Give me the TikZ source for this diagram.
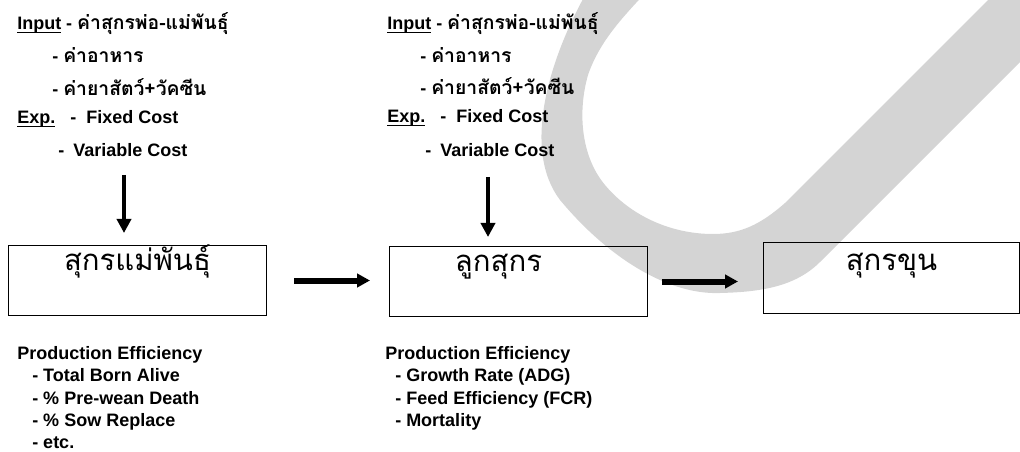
\documentclass[tikz,border=0pt]{standalone}
\usepackage{fontspec}
\setmainfont{Liberation Sans}
\newfontfamily\thai[Script=Thai]{Loma}
\newcommand\thaiin{\thai\bfseries\fontsize{14.5pt}{16pt}\selectfont}
\usetikzlibrary{arrows.meta}
\definecolor{swoosh}{RGB}{212,212,212}

% underlined word with a heavier rule just under the baseline
\newsavebox\ulbox
\newcommand\ulword[1]{\sbox\ulbox{#1}\rlap{\rule[-2.4pt]{\wd\ulbox}{1.1pt}}\usebox\ulbox}

\begin{document}
\begin{tikzpicture}[x=0.75pt,y=-0.75pt,
  line/.style={font=\bfseries\fontsize{13.5pt}{16pt}\selectfont, anchor=base west, inner sep=0pt},
  stage/.style={draw=black, line width=0.75pt, anchor=north west, inner sep=0pt,
                minimum width=193.5pt, font=\thai\fontsize{22pt}{26pt}\selectfont},
  downarrow/.style={line width=3.5pt, -{Triangle[length=10.5pt,width=10.5pt]}},
  flowarrow/.style={line width=4.5pt, -{Triangle[length=9.75pt,width=10pt]}}]

\useasboundingbox (0,0) rectangle (1020,452);

% grey swoosh in the background
\begin{scope}
  \clip (0,0) rectangle (1020,452);
  \fill[swoosh] (588,-10) .. controls (548,60) and (522,150) .. (560,200)
     .. controls (610,260) and (670,295) .. (720,293)
     .. controls (760,292) and (795,287) .. (820,262)
     -- (1100,-18) -- (1000,-12) -- (785,203)
     .. controls (760,225) and (740,234) .. (713,234)
     .. controls (670,234) and (630,215) .. (605,185)
     .. controls (580,155) and (578,110) .. (588,75)
     .. controls (600,40) and (625,15) .. (648,-10) -- cycle;
\end{scope}

% inputs and expenses, sow stage
\node[line] (ia1) at (17,30)  {\ulword{Input} - {\thaiin ค่าสุกรพ่อ-แม่พันธุ์}};
\node[line] (ia2) at (52,63)  {- {\thaiin ค่าอาหาร}};
\node[line] (ia3) at (52,96)  {- {\thaiin ค่ายาสัตว์+วัคซีน}};
\node[line] (ia4) at (17,124) {\ulword{Exp.}\hspace{11.25pt}-\hspace{7.5pt}Fixed Cost};
\node[line] (ia5) at (58,157) {-\hspace{6.75pt}Variable Cost};

% inputs and expenses, piglet stage
\node[line] (ib1) at (387,30)  {\ulword{Input} - {\thaiin ค่าสุกรพ่อ-แม่พันธุ์}};
\node[line] (ib2) at (420,63)  {- {\thaiin ค่าอาหาร}};
\node[line] (ib3) at (420,95)  {- {\thaiin ค่ายาสัตว์+วัคซีน}};
\node[line] (ib4) at (387,123) {\ulword{Exp.}\hspace{11.25pt}-\hspace{7.5pt}Fixed Cost};
\node[line] (ib5) at (425,157) {-\hspace{6.75pt}Variable Cost};

% production stages
\node[stage, text height=18.75pt, text depth=33.75pt] (sow)     at (8,245)   {สุกรแม่พันธุ์};
\node[stage, text height=18.75pt, text depth=33.75pt] (piglet)  at (389,246) {ลูกสุกร\hspace*{30pt}};
\node[stage, minimum width=192pt, text height=21pt, text depth=32.25pt] (fattener) at (763,242) {สุกรขุน};

% cost inputs feeding the stages
\coordinate (da) at (124,175);
\coordinate (db) at (488,177);
\draw[downarrow, shorten >=9pt]    (da) -- (da |- sow.north);
\draw[downarrow, shorten >=6.75pt] (db) -- (db |- piglet.north);

% flow between stages
\draw[flowarrow, shorten <=20.25pt, shorten >=14.25pt] (sow.east) -- (sow.east -| piglet.west);
\draw[flowarrow, shorten <=10.5pt, shorten >=18.75pt] (piglet.east) -- (piglet.east -| fattener.west);

% efficiency measures, sow stage
\node[line] (ea0) at (17,359) {Production Efficiency};
\node[line] (ea1) at (32,381) {- Total Born Alive};
\node[line] (ea2) at (32,404) {- \% Pre-wean Death};
\node[line] (ea3) at (32,426) {- \% Sow Replace};
\node[line] (ea4) at (32,448) {- etc.};

% efficiency measures, piglet stage
\node[line] (eb0) at (385,359) {Production Efficiency};
\node[line] (eb1) at (395,381) {- Growth Rate (ADG)};
\node[line] (eb2) at (395,404) {- Feed Efficiency (FCR)};
\node[line] (eb3) at (395,426) {- Mortality};
\end{tikzpicture}
\end{document}
